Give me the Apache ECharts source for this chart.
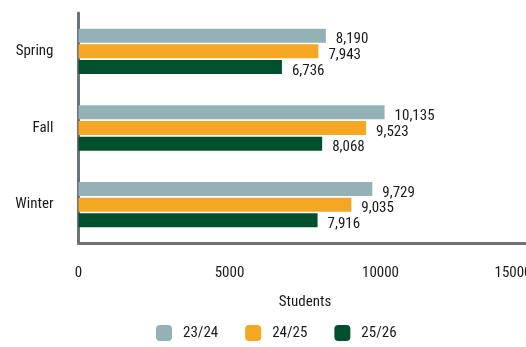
<!DOCTYPE html>
<html>
<head>
<meta charset="utf-8">
<script src="https://cdn.jsdelivr.net/npm/echarts@6/dist/echarts.min.js"></script>
<style>
html,body{margin:0;padding:0;background:#fff;}
#chart{width:526px;height:347px;}
</style>
</head>
<body>
<div id="chart"></div>
<script>
const categories = ['Spring', 'Fall', 'Winter'];
const seriesNames = ['23/24', '24/25', '25/26'];
const values2324 = [8190, 10135, 9729];
const values2425 = [7943, 9523, 9035];
const values2526 = [6736, 8068, 7916];
const xTicks = [0, 5000, 10000, 15000];

const FONT = '"Liberation Sans Narrow", "Roboto Condensed", Roboto, sans-serif';
const colors = ['#94b2b6', '#f5a623', '#00502e'];
const axisColor = '#6b7279';

const chart = echarts.init(document.getElementById('chart'), null, {renderer: 'canvas'});
const dataSets = [values2324, values2425, values2526];

const option = {
  animation: false,
  grid: {left: 78.5, width: 453, top: 13, height: 230, containLabel: false, outerBoundsMode: 'none'},
  legend: {
    left: 151, top: 320,
    itemWidth: 16, itemHeight: 16, itemGap: 27,
    icon: 'roundRect',
    data: seriesNames,
    textStyle: {fontFamily: FONT, fontSize: 15, color: '#1a1a1a', padding: [0, 0, 0, 6]}
  },
  xAxis: {
    type: 'value',
    min: xTicks[0], max: xTicks[xTicks.length - 1], interval: 5000,
    name: 'Students', nameLocation: 'middle', nameGap: 52,
    nameTextStyle: {fontFamily: FONT, fontSize: 15, color: '#1a1a1a'},
    axisLine: {show: true, lineStyle: {color: axisColor, width: 3}},
    axisTick: {show: false},
    splitLine: {show: false},
    axisLabel: {fontFamily: FONT, fontSize: 15, color: '#1a1a1a', margin: 23,
      alignMaxLabel: 'right', formatter: v => String(v)}
  },
  yAxis: {
    type: 'category', inverse: true, data: categories,
    axisLine: {show: true, lineStyle: {color: axisColor, width: 3}},
    axisTick: {show: false},
    axisLabel: {fontFamily: FONT, fontSize: 15, color: '#1a1a1a', margin: 25}
  },
  series: seriesNames.map((n, i) => ({
    name: n, type: 'bar', data: dataSets[i],
    barWidth: 14, barGap: '12%',
    itemStyle: {color: colors[i]},
    label: {
      show: true, position: 'right', distance: 10, offset: [0, 4],
      fontFamily: FONT, fontSize: 15, color: '#1a1a1a',
      formatter: p => p.value.toLocaleString('en-US')
    }
  }))
};
chart.setOption(option);
</script>
</body>
</html>
